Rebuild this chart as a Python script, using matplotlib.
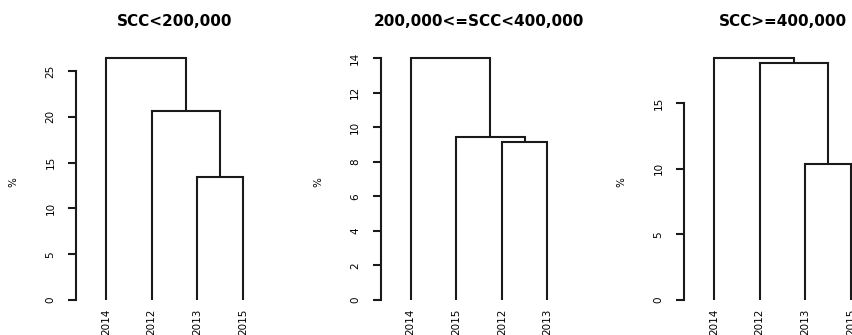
import matplotlib
matplotlib.use("Agg")
import matplotlib.pyplot as plt

# data
titles = ["SCC<200,000", "200,000<=SCC<400,000", "SCC>=400,000"]

leaves_1 = ["2014", "2012", "2013", "2015"]
leaves_2 = ["2014", "2015", "2012", "2013"]
leaves_3 = ["2014", "2012", "2013", "2015"]

# merges: (left, right, height); negative = leaf position (-1..-4), positive = earlier merge (1..)
merges_1 = [(-3, -4, 13.45), (-2, 1, 20.6), (-1, 2, 26.4)]
merges_2 = [(-3, -4, 9.17), (-2, 1, 9.46), (-1, 2, 14.0)]
merges_3 = [(-3, -4, 10.37), (-2, 1, 18.05), (-1, 2, 18.43)]

yticks_1 = [0, 5, 10, 15, 20, 25]
yticks_2 = [0, 2, 4, 6, 8, 10, 12, 14]
yticks_3 = [0, 5, 10, 15]

panels = [
    (titles[0], leaves_1, merges_1, yticks_1),
    (titles[1], leaves_2, merges_2, yticks_2),
    (titles[2], leaves_3, merges_3, yticks_3),
]

W, H = 852, 335
fig = plt.figure(figsize=(W / 100, H / 100), dpi=100)
plt.rcParams['font.family'] = ['DejaVu Sans']

lefts = [76, 380.5, 684]
width = 197
top_px, bot_px = 48.6, 309.7
col = "#1a1a1a"
lw = 1.5


def draw_dendro(ax, merges):
    pos = {}
    for k, (a, b, h) in enumerate(merges, start=1):
        pts = []
        for c in (a, b):
            if c < 0:
                x, y = -c, 0.0
            else:
                x, y = pos[c]
            ax.plot([x, x], [y, h], color=col, lw=lw, clip_on=False,
                    solid_capstyle="butt")
            pts.append(x)
        ax.plot(pts, [h, h], color=col, lw=lw, clip_on=False,
                solid_capstyle="projecting")
        pos[k] = ((pts[0] + pts[1]) / 2, h)


for (title, leaves, merges, yticks), left in zip(panels, lefts):
    ax = fig.add_axes([left / W, (H - bot_px) / H, width / W, (bot_px - top_px) / H])
    m = max(h for _, _, h in merges)
    draw_dendro(ax, merges)
    ax.set_xlim(0.34, len(leaves) + 0.66)
    ax.set_ylim(-0.04 * m, 1.04 * m)
    for s in ["top", "right", "bottom"]:
        ax.spines[s].set_visible(False)
    ax.spines["left"].set_bounds(yticks[0], yticks[-1])
    ax.spines["left"].set_linewidth(lw)
    ax.spines["left"].set_color(col)
    ax.set_xticks([])
    ax.set_yticks(yticks)
    ax.set_yticklabels([str(t) for t in yticks], rotation=90, va="center", ha="right",
                       fontsize=7.5)
    ax.tick_params(axis="y", length=5.8, width=lw, color=col, pad=9)
    for i, lab in enumerate(leaves, start=1):
        ax.annotate(lab, xy=(i, 0), xytext=(0, -6), textcoords="offset points",
                    rotation=90, ha="center", va="top", fontsize=7.5,
                    annotation_clip=False)
    ax.annotate("%", xy=(0, 0.49), xycoords="axes fraction", xytext=(-45, 0),
                textcoords="offset points", rotation=90, ha="center", va="center",
                fontsize=7.5)
    ax.set_title(title, fontsize=11, fontweight="bold", pad=16)
    ax.patch.set_visible(False)

fig.savefig("out.png", dpi=100)
